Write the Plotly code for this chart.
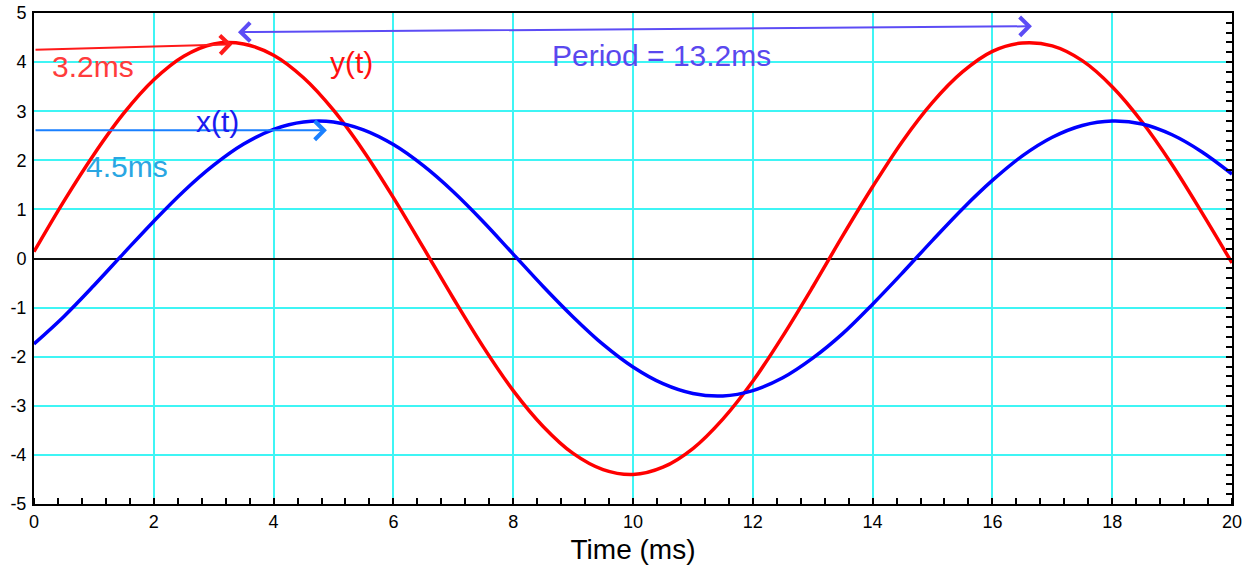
import plotly.graph_objects as go

# Time axis (ms)
t = [0.0, 0.5, 1.0, 1.5, 2.0, 2.5, 3.0, 3.5, 4.0, 4.5, 5.0, 5.5, 6.0, 6.5, 7.0, 7.5,
     8.0, 8.5, 9.0, 9.5, 10.0, 10.5, 11.0, 11.5, 12.0, 12.5, 13.0, 13.5, 14.0, 14.5,
     15.0, 15.5, 16.0, 16.5, 17.0, 17.5, 18.0, 18.5, 19.0, 19.5, 20.0]

# y(t)
y_vals = [0.14, 1.17, 2.12, 2.96, 3.64, 4.12, 4.37, 4.37, 4.14, 3.68, 3.02, 2.19, 1.24,
          0.22, -0.81, -1.80, -2.69, -3.42, -3.97, -4.30, -4.40, -4.25, -3.87, -3.27,
          -2.50, -1.58, -0.58, 0.46, 1.46, 2.39, 3.18, 3.80, 4.22, 4.39, 4.33, 4.03,
          3.50, 2.78, 1.91, 0.93, -0.09]

# x(t)
x_vals = [-1.74, -1.18, -0.55, 0.11, 0.76, 1.37, 1.90, 2.33, 2.63, 2.78, 2.78, 2.62,
          2.32, 1.89, 1.36, 0.75, 0.09, -0.57, -1.19, -1.75, -2.21, -2.55, -2.75, -2.80,
          -2.69, -2.43, -2.03, -1.53, -0.93, -0.29, 0.37, 1.01, 1.59, 2.09, 2.47, 2.71,
          2.80, 2.74, 2.52, 2.17, 1.72]

x_ticks = [0, 2, 4, 6, 8, 10, 12, 14, 16, 18, 20]
y_ticks = [-5, -4, -3, -2, -1, 0, 1, 2, 3, 4, 5]

FONT = "Liberation Sans, Arial, Helvetica, sans-serif"

fig = go.Figure()
fig.add_trace(go.Scatter(x=t, y=y_vals, mode="lines", line=dict(color="#ff0000", width=3.5, shape="spline"),
                         name="y(t)", showlegend=False, hoverinfo="skip"))
fig.add_trace(go.Scatter(x=t, y=x_vals, mode="lines", line=dict(color="#0000ff", width=3.5, shape="spline"),
                         name="x(t)", showlegend=False, hoverinfo="skip"))
# dummy trace for right-hand minor tick axis
fig.add_trace(go.Scatter(x=[None], y=[None], yaxis="y2", showlegend=False, hoverinfo="skip"))

annotations = [
    # red arrow to y(t) peak
    dict(x=3.31, y=4.36, ax=0.0, ay=4.25, xref="x", yref="y", axref="x", ayref="y",
         text="", showarrow=True, arrowhead=4, arrowsize=1.8, arrowwidth=2, arrowcolor="#ff1a1a", standoff=0),
    # blue arrow to x(t) peak
    dict(x=4.89, y=2.61, ax=0.0, ay=2.61, xref="x", yref="y", axref="x", ayref="y",
         text="", showarrow=True, arrowhead=4, arrowsize=1.8, arrowwidth=2, arrowcolor="#1a80ff", standoff=0),
    # period double arrow
    dict(x=16.66, y=4.73, ax=3.38, ay=4.61, xref="x", yref="y", axref="x", ayref="y",
         text="", showarrow=True, arrowhead=4, startarrowhead=4, arrowside="end+start",
         arrowsize=1.8, startarrowsize=1.8, arrowwidth=2, arrowcolor="#5c4cf5", standoff=0, startstandoff=0),
    dict(x=0.98, y=3.92, xref="x", yref="y", text="3.2ms", showarrow=False,
         font=dict(family=FONT, size=30, color="#ff3c3c")),
    dict(x=5.30, y=4.0, xref="x", yref="y", text="y(t)", showarrow=False,
         font=dict(family=FONT, size=30, color="#ff1010")),
    dict(x=3.06, y=2.80, xref="x", yref="y", text="x(t)", showarrow=False,
         font=dict(family=FONT, size=30, color="#1a1aef")),
    dict(x=1.56, y=1.87, xref="x", yref="y", text="4.5ms", showarrow=False,
         font=dict(family=FONT, size=30, color="#2aa6e2")),
    dict(x=10.48, y=4.13, xref="x", yref="y", text="Period = 13.2ms", showarrow=False,
         font=dict(family=FONT, size=30, color="#5a48ee")),
]

fig.update_layout(
    width=1253, height=568,
    margin=dict(l=34, r=21, t=13, b=64, autoexpand=False),
    paper_bgcolor="white", plot_bgcolor="white",
    font=dict(family=FONT, size=18, color="black"),
    annotations=annotations,
    xaxis=dict(
        range=[0, 20], tickvals=x_ticks, ticktext=[str(v) for v in x_ticks],
        showgrid=True, gridcolor="#3ff5f5", gridwidth=1.6,
        zeroline=False, showline=True, linecolor="black", linewidth=2, mirror=True,
        ticks="", minor=dict(ticks="inside", dtick=0.4, ticklen=6, tickcolor="black", tickwidth=1.5, showgrid=False),
        tickfont=dict(family=FONT, size=18),
        title=dict(text="Time (ms)", font=dict(family=FONT, size=28), standoff=9),
        automargin=False, fixedrange=True,
    ),
    yaxis=dict(
        range=[-5, 5], tickvals=y_ticks, ticktext=[str(v) for v in y_ticks],
        showgrid=True, gridcolor="#3ff5f5", gridwidth=1.6,
        zeroline=True, zerolinecolor="#111111", zerolinewidth=2.2,
        showline=True, linecolor="black", linewidth=2, mirror=True,
        ticks="", ticklabelstandoff=2,
        tickfont=dict(family=FONT, size=18),
        automargin=False, fixedrange=True,
    ),
    yaxis2=dict(
        range=[-5, 5], overlaying="y", side="right", showgrid=False, zeroline=False,
        showticklabels=False, ticks="inside", ticklen=6, tickwidth=1.5, tickcolor="black", dtick=0.2,
        showline=False, automargin=False, fixedrange=True,
    ),
)

fig.write_html("out.html", config={"displayModeBar": False},
               post_script="document.body.style.margin='0';document.body.style.overflow='hidden';")
